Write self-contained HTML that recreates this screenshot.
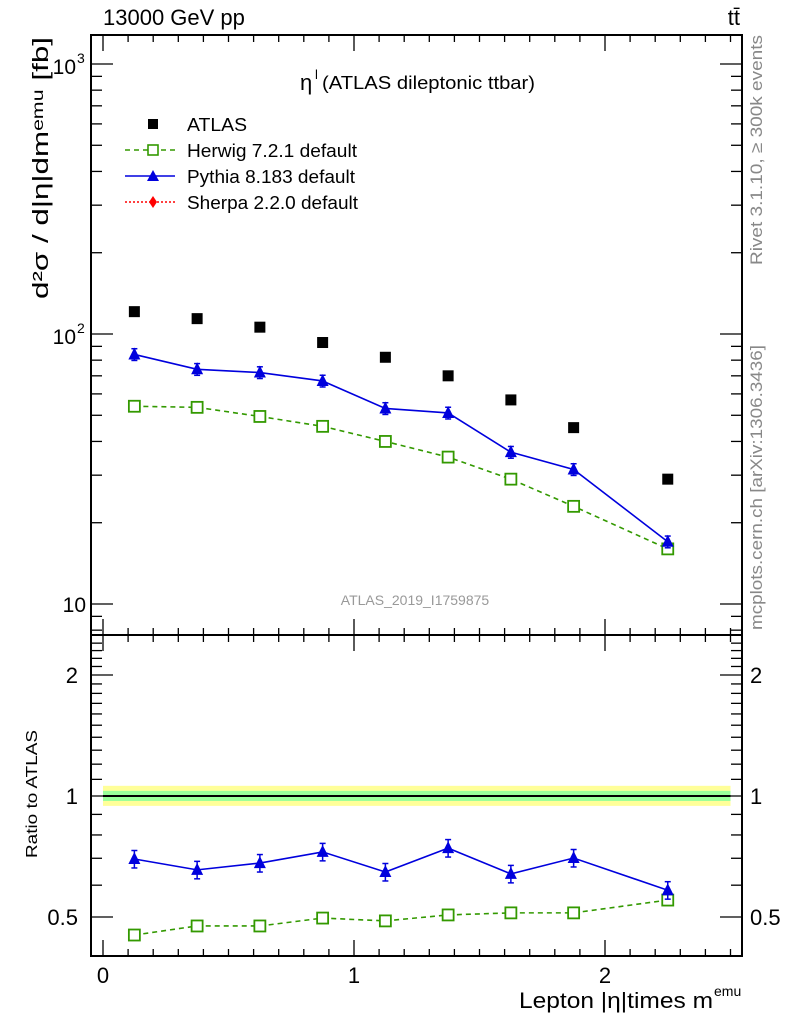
<!DOCTYPE html>
<html><head><meta charset="utf-8"><style>
html,body{margin:0;padding:0;background:#fff;}
svg{display:block;font-family:"Liberation Sans",sans-serif;}
</style></head><body>
<svg id="chart" width="786" height="1024" viewBox="0 0 786 1024" xmlns="http://www.w3.org/2000/svg">
<g id="g"></g>
</svg>
<script>
const xCenters=[0.125,0.375,0.625,0.875,1.125,1.375,1.625,1.875,2.25];
const atlasVals=[121,114,106,93,82,70,57,45,29];
const pythiaVals=[84,74,72,67,53,51,36.5,31.5,17];
const herwigVals=[54,53.5,49.5,45.5,40,35,29,23,16];
const pythiaRatio=[0.697,0.655,0.681,0.726,0.647,0.742,0.640,0.701,0.583];
const herwigRatio=[0.451,0.475,0.475,0.497,0.489,0.506,0.512,0.512,0.551];
const xTicks=[0,1,2];

const L=91,R=742,T=35,M=635,B=956;
const X=v=>103+v*251;
const Ymain=v=>334-(Math.log10(v)-2)*270;
const Yrat=v=>796-Math.log10(v)*402;
const NS='http://www.w3.org/2000/svg';
const g=document.getElementById('g');
function el(tag,attrs,parent,text){const e=document.createElementNS(NS,tag);for(const k in attrs)e.setAttribute(k,attrs[k]);if(text!==undefined)e.textContent=text;(parent||g).appendChild(e);return e;}

const band=el('rect',{x:X(0),y:Yrat(1.06),width:X(2.5)-X(0),height:Yrat(0.945)-Yrat(1.06),fill:'#ffff99'});


const band2=el('rect',{x:X(0),y:Yrat(1.03),width:X(2.5)-X(0),height:Yrat(0.972)-Yrat(1.03),fill:'#99ff99'});


const one=el('line',{x1:X(0),x2:X(2.5),y1:Yrat(1),y2:Yrat(1),stroke:'#000','stroke-width':2});



const f1=el('rect',{x:L,y:T,width:R-L,height:M-T,fill:'none',stroke:'#000','stroke-width':2});


const f2=el('rect',{x:L,y:M,width:R-L,height:B-M,fill:'none',stroke:'#000','stroke-width':2});



for(let i=0;i<=25;i++){const v=i*0.1;const x=X(v);const major=(i%10===0);const l=major?16:7;
 [[T,1],[M,-1],[M,1],[B,-1]].forEach(([y,d])=>{el('line',{x1:x,x2:x,y1:y,y2:y+d*l,stroke:'#000','stroke-width':1.3});});}
xTicks.forEach(v=>{const t=el('text',{x:X(v),y:983,'font-size':22,'text-anchor':'middle'},g,String(v));
});

for(let d=0;d<3;d++){for(let m=1;m<=9;m++){const v=Math.pow(10,1+d)*m;if(v>1280)continue;const y=Ymain(v);const l=m===1?22:11;
 el('line',{x1:L,x2:L+l,y1:y,y2:y,stroke:'#000','stroke-width':1.3});el('line',{x1:R,x2:R-l,y1:y,y2:y,stroke:'#000','stroke-width':1.3});}}
for(const m of [8,9]){const y=Ymain(m);el('line',{x1:L,x2:L+11,y1:y,y2:y,stroke:'#000','stroke-width':1.3});el('line',{x1:R,x2:R-11,y1:y,y2:y,stroke:'#000','stroke-width':1.3});}
[[1000,'3'],[100,'2']].forEach(([v,e])=>{const t=el('text',{x:76,y:Ymain(v)+10,'font-size':21,'text-anchor':'end'},g,'10');
 
 el('text',{x:77,y:Ymain(v)-1,'font-size':14},g,e);});
{const t=el('text',{x:86,y:Ymain(10)+8,'font-size':21,'text-anchor':'end'},g,'10');}

for(let v=0.4;v<=2.5;v+=0.1){const y=Yrat(v);if(y<M||y>B)continue;const maj=Math.abs(v-0.5)<1e-6||Math.abs(v-1)<1e-6||Math.abs(v-2)<1e-6;const l=maj?22:11;
 el('line',{x1:L,x2:L+l,y1:y,y2:y,stroke:'#000','stroke-width':1.3});el('line',{x1:R,x2:R-l,y1:y,y2:y,stroke:'#000','stroke-width':1.3});}
[[2,'2'],[1,'1'],[0.5,'0.5']].forEach(([v,s])=>{const t=el('text',{x:78,y:Yrat(v)+8,'font-size':22,'text-anchor':'end'},g,s);
 
 const t2=el('text',{x:750,y:Yrat(v)+8,'font-size':22},g,s);});

function drawHerwig(vals,Y){const pts=xCenters.map((x,i)=>X(x)+','+Y(vals[i])).join(' ');
 const pl=el('polyline',{points:pts,fill:'none',stroke:'#339900','stroke-width':1.6,'stroke-dasharray':'5,4'});
 
 xCenters.forEach((x,i)=>{const r=el('rect',{x:X(x)-5.5,y:Y(vals[i])-5.5,width:11,height:11,fill:'#fff',stroke:'#339900','stroke-width':1.8});
 });}
function drawPythia(vals,Y,err){const pts=xCenters.map((x,i)=>X(x)+','+Y(vals[i])).join(' ');
 const pl=el('polyline',{points:pts,fill:'none',stroke:'#0000dd','stroke-width':1.6});
 
 xCenters.forEach((x,i)=>{const cx=X(x),cy=Y(vals[i]);const y1=Y(vals[i]*(1+err)),y2=Y(vals[i]*(1-err));
 el('line',{x1:cx,x2:cx,y1:y1,y2:y2,stroke:'#0000dd','stroke-width':1.5});
 el('line',{x1:cx-3,x2:cx+3,y1:y1,y2:y1,stroke:'#0000dd','stroke-width':1.5});el('line',{x1:cx-3,x2:cx+3,y1:y2,y2:y2,stroke:'#0000dd','stroke-width':1.5});
 const p=el('polygon',{points:`${cx},${cy-7} ${cx-6},${cy+5} ${cx+6},${cy+5}`,fill:'#0000dd'});
 });}
xCenters.forEach((x,i)=>{const r=el('rect',{x:X(x)-5.5,y:Ymain(atlasVals[i])-5.5,width:11,height:11,fill:'#000'});
 });
drawHerwig(herwigVals,Ymain);drawPythia(pythiaVals,Ymain,0.05);
drawHerwig(herwigRatio,Yrat);drawPythia(pythiaRatio,Yrat,0.05);

function txt(name,attrs,s){const t=el('text',attrs,g,s);return t;}
txt('energy-label',{x:103,y:25,'font-size':22},'13000 GeV pp');
txt('process-label',{x:740,y:25,'font-size':22,'text-anchor':'end'},'tt̄');
txt('plot-title-eta',{x:300,y:90,'font-size':22},'η');
txt('plot-title-sup',{x:315,y:79,'font-size':13},'l');
txt('plot-title',{x:322,y:89,'font-size':18,textLength:213,lengthAdjust:'spacingAndGlyphs'},'(ATLAS dileptonic ttbar)');
txt('analysis-id',{x:415,y:605,'font-size':14,fill:'#999','text-anchor':'middle'},'ATLAS_2019_I1759875');
txt('x-axis-title',{x:519,y:1008,'font-size':22,textLength:194,lengthAdjust:'spacingAndGlyphs'},'Lepton |η|times m');
txt('x-axis-title-sup',{x:714,y:996,'font-size':14},'emu');
txt('y-axis-title',{x:0,y:0,'font-size':22,'text-anchor':'end',transform:'translate(48,37) rotate(-90)',textLength:262,lengthAdjust:'spacingAndGlyphs'},'d²σ / d|η|dmᵉᵐᵘ [fb]');
txt('ratio-y-axis-title',{x:0,y:0,'font-size':16,'text-anchor':'middle',transform:'translate(37,794) rotate(-90)',textLength:128,lengthAdjust:'spacingAndGlyphs'},'Ratio to ATLAS');
txt('rivet-label',{x:0,y:0,'font-size':17,fill:'#888','text-anchor':'end',transform:'translate(762,35) rotate(-90)',textLength:230,lengthAdjust:'spacingAndGlyphs'},'Rivet 3.1.10, ≥ 300k events');
txt('mcplots-label',{x:0,y:0,'font-size':17,fill:'#888','text-anchor':'end',transform:'translate(762,345) rotate(-90)',textLength:285,lengthAdjust:'spacingAndGlyphs'},'mcplots.cern.ch [arXiv:1306.3436]');

const lg=[['ATLAS',124,60],['Herwig 7.2.1 default',150,170],['Pythia 8.183 default',176,168],['Sherpa 2.2.0 default',202,171]];
lg.forEach(([s,y,w])=>txt('legend-entry',{x:187,y:y+7,'font-size':18,textLength:w,lengthAdjust:'spacingAndGlyphs'},s));
el('rect',{x:148,y:119,width:10,height:10,fill:'#000'});
el('line',{x1:125,x2:175,y1:150,y2:150,stroke:'#339900','stroke-width':1.5,'stroke-dasharray':'5,4'});
el('rect',{x:148,y:145,width:10,height:10,fill:'#fff',stroke:'#339900','stroke-width':1.6});
el('line',{x1:125,x2:175,y1:176,y2:176,stroke:'#0000dd','stroke-width':1.5});
el('polygon',{points:'153,170 147,181 159,181',fill:'#0000dd'});
el('line',{x1:125,x2:175,y1:202,y2:202,stroke:'#ff0000','stroke-width':1.5,'stroke-dasharray':'2,2'});
el('polygon',{points:'153,196 157,202 153,208 149,202',fill:'#ff0000'});
</script>
</body></html>
